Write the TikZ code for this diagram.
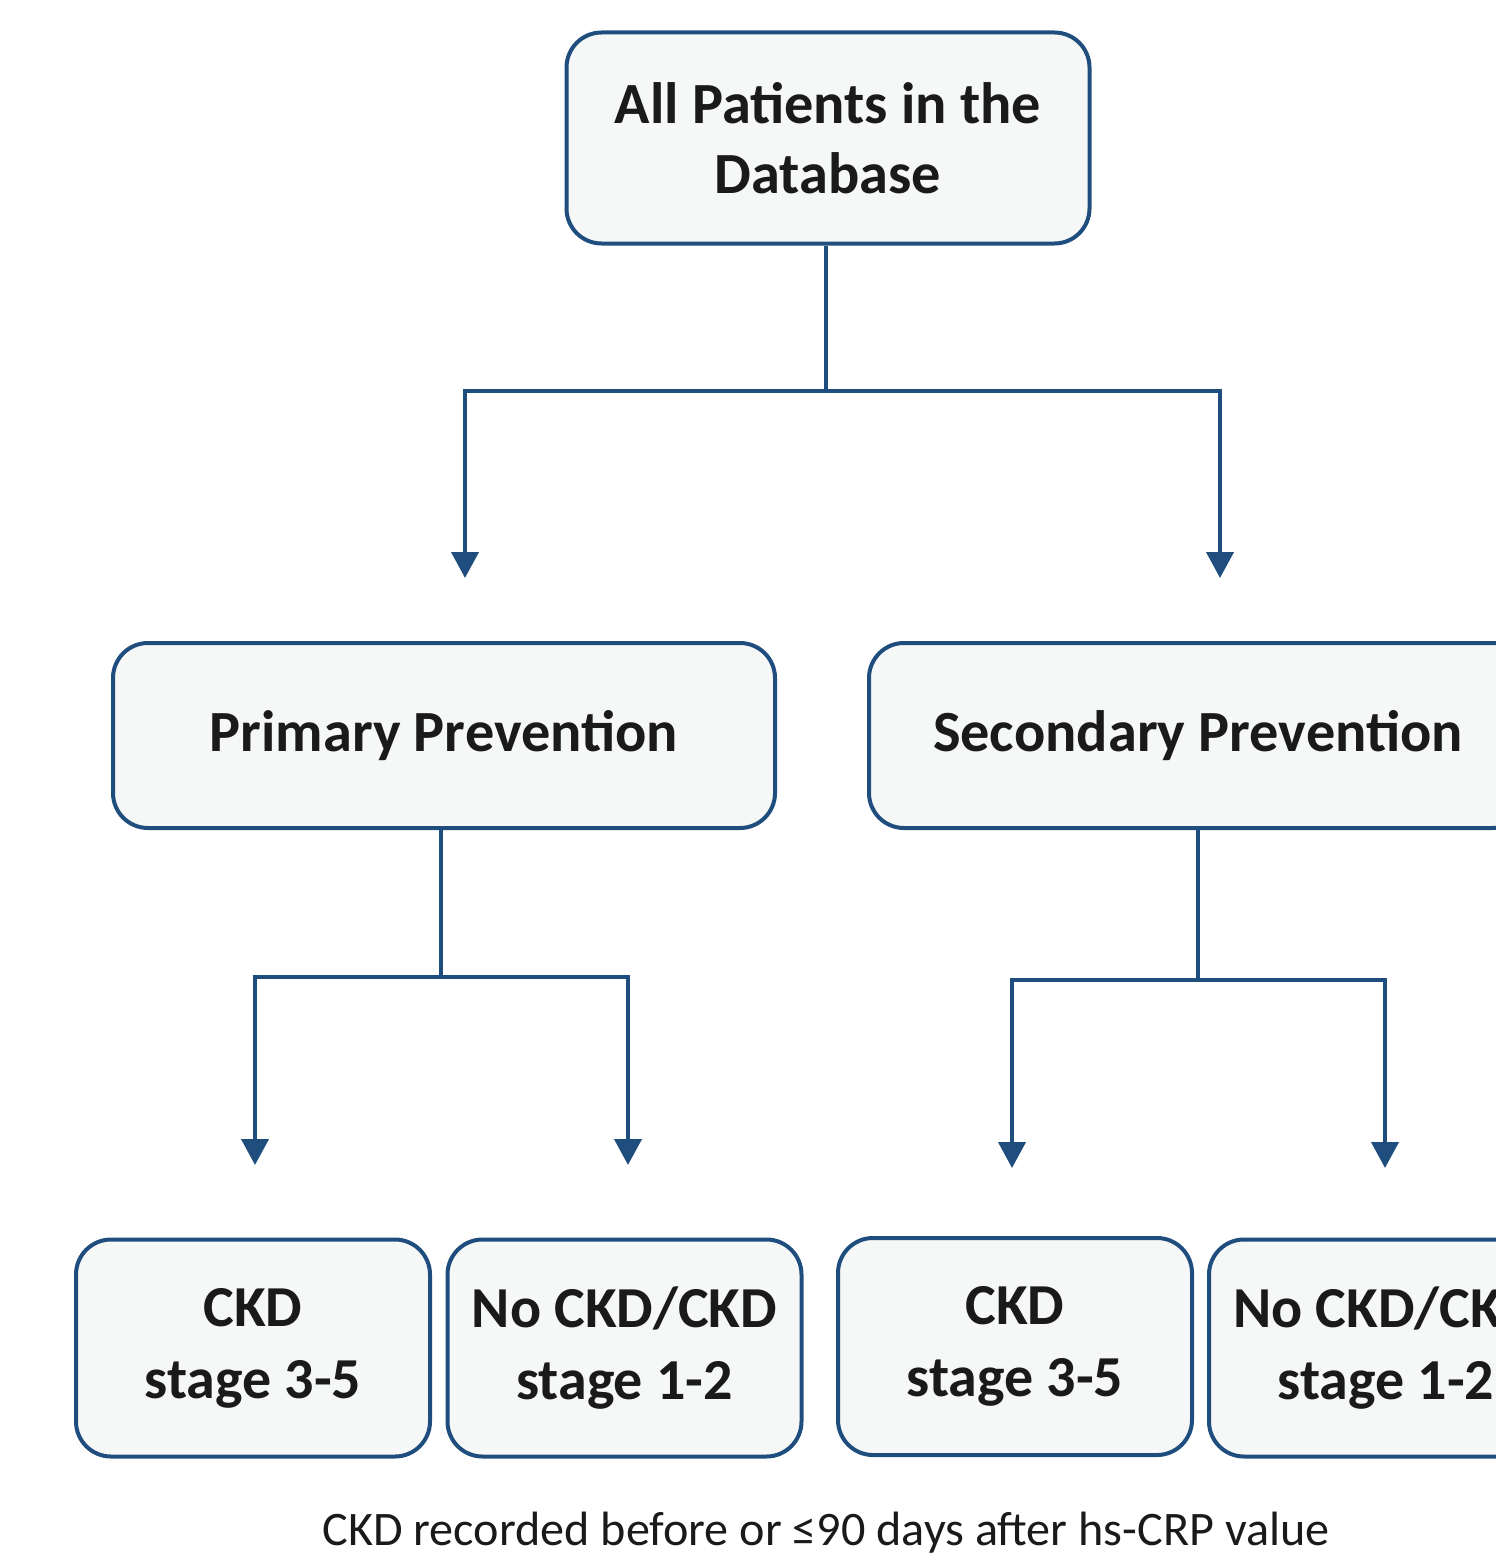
\documentclass[tikz,border=0pt]{standalone}
\usepackage{fontspec}
\setmainfont{Carlito}
\usepackage{xcolor}
\usepackage{tikz}
\usetikzlibrary{arrows.meta, positioning, calc}
\definecolor{boxblue}{HTML}{1F4E7E}
\definecolor{boxfill}{HTML}{F6F8F7}
\definecolor{inkgray}{HTML}{1A1A1A}
\tikzstyle{group} = [rectangle, rounded corners=0.35cm, line width=0.04cm, draw=boxblue, fill=boxfill, text=inkgray, align=center, font=\fontsize{16.6}{20}\selectfont\bfseries]
\tikzstyle{stagebox} = [group, minimum width=3.54cm, minimum height=2.17cm, font=\fontsize{16.5}{20.5}\selectfont\bfseries]
\tikzstyle{link} = [line width=0.04cm, draw=boxblue]
\tikzstyle{arrow} = [link, -{Triangle[length=0.26cm, width=0.27cm]}]

\begin{document}
\begin{tikzpicture}
\useasboundingbox (0,0) rectangle (14.96,-15.62);
\clip (0,0) rectangle (14.96,-15.62);

% boxes
\node [group, minimum width=5.23cm, minimum height=2.11cm] (all) at (8.28,-1.38) {All Patients in the\\Database};
\node [group, minimum width=6.62cm, minimum height=1.85cm] (primary) at (4.44,-7.355) {Primary Prevention};
\node [group, minimum width=6.58cm, minimum height=1.85cm] (secondary) at (11.98,-7.355) {\raisebox{-0.07cm}{Secondary Prevention}};

\node [stagebox] (pckd) at (2.53,-13.48) {CKD\\stage 3-5};
\node [stagebox] (pnockd) at (6.245,-13.48) {No CKD/CKD\\stage 1-2};
\node [stagebox] (sckd) at (10.15,-13.465) {CKD\\stage 3-5};
\node [stagebox] (snockd) at (13.86,-13.48) {No CKD/CKD\\stage 1-2};

\node [font=\fontsize{13.7}{16.5}\selectfont, text=inkgray] (note) at (8.26,-15.33) {CKD recorded before or ≤90 days after hs-CRP value};

% split points and arrow ends
\coordinate (split all) at (8.26,-3.91);
\coordinate (to primary) at (4.65,-5.78);
\coordinate (to secondary) at (12.20,-5.78);
\coordinate (split primary) at (4.41,-9.77);
\coordinate (to pckd) at (2.55,-11.65);
\coordinate (to pnockd) at (6.28,-11.65);
\coordinate (split secondary) at (11.98,-9.80);
\coordinate (to sckd) at (10.12,-11.68);
\coordinate (to snockd) at (13.85,-11.68);

% connectors
\draw [link] (all.south -| split all) -- (split all);
\draw [arrow] (split all) -| (to primary);
\draw [arrow] (split all) -| (to secondary);

\draw [link] (primary.south -| split primary) -- (split primary);
\draw [arrow] (split primary) -| (to pckd);
\draw [arrow] (split primary) -| (to pnockd);

\draw [link] (secondary.south) -- (split secondary);
\draw [arrow] (split secondary) -| (to sckd);
\draw [arrow] (split secondary) -| (to snockd);
\end{tikzpicture}
\end{document}
